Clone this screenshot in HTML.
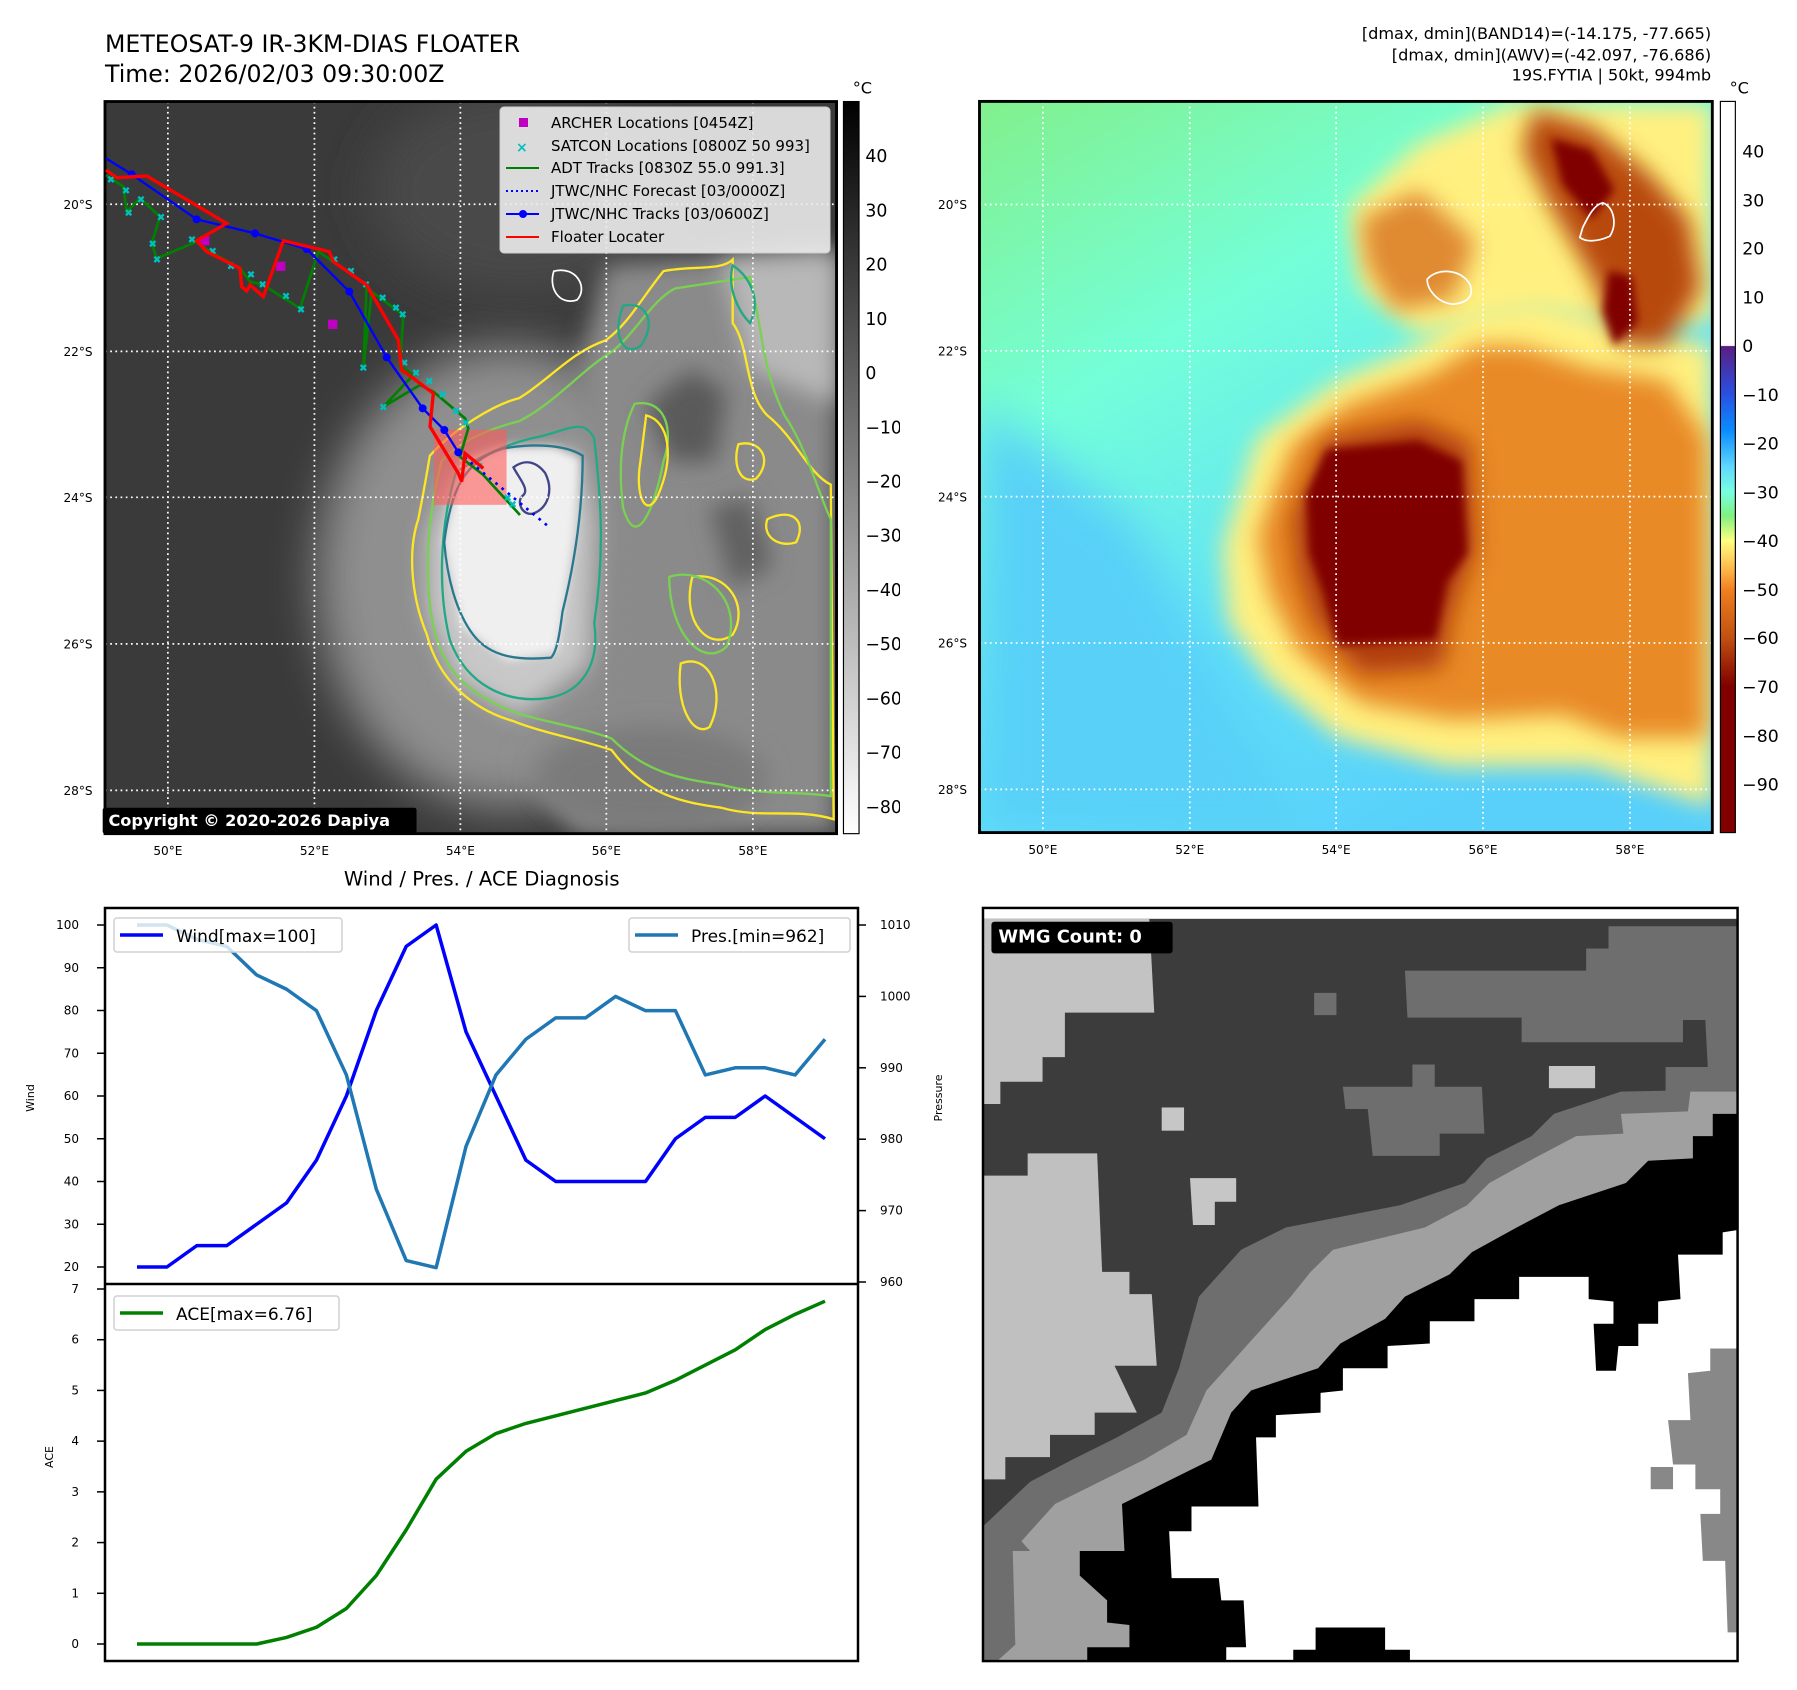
<!DOCTYPE html>
<html><head><meta charset="utf-8"><style>
html,body{margin:0;padding:0;background:#fff;}
svg{display:block;font-family:"DejaVu Sans","Liberation Sans",sans-serif;}
</style></head><body>
<svg id="root" width="1797" height="1690" viewBox="0 0 1797 1690" xmlns="http://www.w3.org/2000/svg">
<defs>
  <filter id="b40" x="-50%" y="-50%" width="200%" height="200%"><feGaussianBlur stdDeviation="40"/></filter>
  <filter id="b20" x="-50%" y="-50%" width="200%" height="200%"><feGaussianBlur stdDeviation="20"/></filter>
  <filter id="b8" x="-50%" y="-50%" width="200%" height="200%"><feGaussianBlur stdDeviation="8"/></filter>
  <linearGradient id="gcb" x1="0" y1="0" x2="0" y2="1">
    <stop offset="0" stop-color="#000"/><stop offset="1" stop-color="#fff"/>
  </linearGradient>
  <linearGradient id="ccb" x1="0" y1="0" x2="0" y2="1">
    <stop offset="0" stop-color="#fff"/><stop offset="0.334" stop-color="#fff"/>
    <stop offset="0.335" stop-color="#5a1e82"/><stop offset="0.40" stop-color="#2a50e0"/>
    <stop offset="0.45" stop-color="#0a8cff"/><stop offset="0.50" stop-color="#60d8ff"/>
    <stop offset="0.534" stop-color="#78ffe0"/><stop offset="0.567" stop-color="#80f080"/>
    <stop offset="0.601" stop-color="#ffff80"/><stop offset="0.635" stop-color="#ffc050"/>
    <stop offset="0.668" stop-color="#f08020"/><stop offset="0.734" stop-color="#c05010"/>
    <stop offset="0.80" stop-color="#800000"/><stop offset="1" stop-color="#800000"/>
  </linearGradient>
  <linearGradient id="rbg" x1="0" y1="0" x2="0.6" y2="1">
    <stop offset="0" stop-color="#82f08c"/><stop offset="0.35" stop-color="#74ffd8"/>
    <stop offset="0.7" stop-color="#60e0f8"/><stop offset="1" stop-color="#58d0fa"/>
  </linearGradient>
  <clipPath id="clipL"><rect x="182" y="176" width="1268" height="1269"/></clipPath>
  <clipPath id="clipR"><rect x="138" y="176" width="1272" height="1269"/></clipPath>
  <clipPath id="clipW"><rect x="5" y="8" width="1520" height="1525"/></clipPath>
</defs>

<!-- ============ LEFT MAP (zoom3 coords) ============ -->
<svg x="0" y="0" width="900" height="900" viewBox="0 0 1560 1560">
  <text x="182" y="90" font-size="41" fill="#000">METEOSAT-9 IR-3KM-DIAS FLOATER</text>
  <text x="182" y="142" font-size="41" fill="#000">Time: 2026/02/03 09:30:00Z</text>
  <g clip-path="url(#clipL)">
    <rect x="182" y="176" width="1268" height="1269" fill="#3a3a3a"/>
    <ellipse cx="900" cy="330" rx="260" ry="180" fill="#4a4a4a" filter="url(#b40)"/>
    <ellipse cx="880" cy="1000" rx="330" ry="400" fill="#8f8f8f" filter="url(#b40)"/>
    <polygon points="1050,460 1450,430 1450,1445 1000,1445 900,1320 1040,1200 1060,900 1000,650" fill="#8a8a8a" filter="url(#b20)"/>
    <polygon points="1250,450 1450,440 1450,700 1300,640" fill="#b8b8b8" filter="url(#b20)"/>
    <ellipse cx="1130" cy="1350" rx="200" ry="90" fill="#7a7a7a" filter="url(#b20)"/>
    <polygon points="740,930 780,830 860,790 1000,780 1030,900 1020,1150 900,1240 790,1180 740,1060" fill="#c8c8c8" filter="url(#b20)"/>
    <polygon points="770,940 800,800 870,775 960,775 1005,795 995,930 965,1130 880,1145 800,1085" fill="#efefef" filter="url(#b8)"/>
    <polygon points="1120,700 1200,640 1260,680 1240,800 1160,800" fill="#5a5a5a" filter="url(#b20)"/>
    <polygon points="1230,880 1300,860 1340,980 1270,1020" fill="#606060" filter="url(#b20)"/>
  </g>
  <g fill="none" stroke-width="4" clip-path="url(#clipL)">
    <path d="M745,790 C790,740 860,700 900,690 C950,660 990,610 1050,590 C1090,560 1110,520 1150,470 C1200,460 1250,470 1270,450 L1270,560 C1300,600 1290,680 1330,720 C1380,760 1400,820 1440,840 L1445,1420 C1380,1400 1320,1420 1250,1400 C1180,1390 1120,1380 1060,1300 C1000,1280 940,1270 890,1250 C820,1230 760,1180 740,1100 C715,1040 705,960 725,900 C735,850 740,820 745,790 Z" stroke="#fde725"/>
    <path d="M765,800 C800,760 860,740 900,730 C960,700 1010,640 1060,610 C1100,580 1130,520 1170,500 L1300,480 C1320,560 1320,640 1360,720 C1400,780 1420,860 1440,900 L1440,1380 C1380,1370 1320,1380 1250,1360 C1180,1350 1120,1340 1060,1280 C990,1255 930,1250 880,1230 C810,1200 765,1160 750,1080 C735,1000 740,900 765,800 Z" stroke="#7ad151"/>
    <path d="M790,820 C830,790 880,770 920,760 C980,750 1010,720 1030,760 C1040,850 1050,950 1030,1080 C1040,1150 1010,1200 950,1210 C880,1220 810,1190 780,1110 C760,1030 760,920 790,820 Z" stroke="#22a884"/>
    <path d="M770,940 C780,860 800,800 870,778 C920,768 980,770 1010,790 C1010,870 1000,960 975,1060 C970,1100 965,1130 955,1140 C900,1145 850,1140 820,1100 C790,1060 775,1000 770,940 Z" stroke="#2a788e"/>
    <path d="M890,810 C910,795 930,800 945,820 C960,850 950,880 925,890 C905,895 895,870 905,860 C920,850 900,830 890,810 Z" stroke="#414487"/>
    <path d="M1080,530 C1120,520 1140,560 1110,600 C1080,620 1060,580 1080,530 Z" stroke="#22a884"/>
    <path d="M1270,460 C1300,480 1320,520 1300,560 C1280,540 1260,500 1270,460 Z" stroke="#22a884"/>
    <path d="M1100,700 C1150,690 1170,740 1150,800 C1130,900 1100,950 1080,880 C1070,800 1080,740 1100,700 Z" stroke="#7ad151"/>
    <path d="M1120,720 C1160,730 1170,790 1140,860 C1120,900 1100,860 1110,800 Z" stroke="#fde725"/>
    <path d="M1200,1000 C1260,990 1300,1050 1270,1100 C1230,1130 1180,1080 1200,1000 Z" stroke="#fde725"/>
    <path d="M1160,1000 C1220,980 1290,1040 1260,1120 C1220,1160 1160,1100 1160,1000 Z" stroke="#7ad151"/>
    <path d="M1280,770 C1320,760 1340,800 1310,830 C1280,840 1270,800 1280,770 Z" stroke="#fde725"/>
    <path d="M1330,900 C1370,880 1400,900 1380,940 C1350,950 1320,930 1330,900 Z" stroke="#fde725"/>
    <path d="M1180,1150 C1230,1130 1260,1200 1230,1260 C1200,1280 1170,1220 1180,1150 Z" stroke="#fde725"/>
    <path d="M960,470 C1000,460 1020,500 1000,520 C970,530 950,500 960,470 Z" stroke="#ffffff" stroke-width="3"/>
  </g>
  <g stroke="#fff" stroke-width="3" stroke-dasharray="3,6" clip-path="url(#clipL)">
    <line x1="291" y1="176" x2="291" y2="1445"/><line x1="545" y1="176" x2="545" y2="1445"/>
    <line x1="798" y1="176" x2="798" y2="1445"/><line x1="1051" y1="176" x2="1051" y2="1445"/>
    <line x1="1305" y1="176" x2="1305" y2="1445"/>
    <line x1="182" y1="354" x2="1450" y2="354"/><line x1="182" y1="609" x2="1450" y2="609"/>
    <line x1="182" y1="862" x2="1450" y2="862"/><line x1="182" y1="1116" x2="1450" y2="1116"/>
    <line x1="182" y1="1370" x2="1450" y2="1370"/>
  </g>
  <rect x="752" y="745" width="126" height="130" fill="rgba(255,90,90,0.6)"/>
  <rect x="182" y="176" width="1268" height="1269" fill="none" stroke="#000" stroke-width="5"/>
  <g font-size="21" fill="#000">
    <text x="110" y="362">20°S</text><text x="110" y="617">22°S</text><text x="110" y="870">24°S</text>
    <text x="110" y="1124">26°S</text><text x="110" y="1378">28°S</text>
  </g>
  <g font-size="21" fill="#000" text-anchor="middle">
    <text x="291" y="1482">50°E</text><text x="545" y="1482">52°E</text><text x="798" y="1482">54°E</text>
    <text x="1051" y="1482">56°E</text><text x="1305" y="1482">58°E</text>
  </g>
  <rect x="1462" y="176" width="27" height="1269" fill="url(#gcb)" stroke="#000" stroke-width="2"/>
  <text x="1478" y="162" font-size="28">°C</text>
  <g font-size="30" fill="#000">
    <text x="1500" y="281">40</text><text x="1500" y="375">30</text><text x="1500" y="469">20</text>
    <text x="1500" y="563">10</text><text x="1500" y="657">0</text><text x="1500" y="751">−10</text>
    <text x="1500" y="845">−20</text><text x="1500" y="939">−30</text><text x="1500" y="1033">−40</text>
    <text x="1500" y="1127">−50</text><text x="1500" y="1221">−60</text><text x="1500" y="1315">−70</text>
    <text x="1500" y="1409">−80</text>
  </g>
  <rect x="178" y="1400" width="544" height="45" rx="4" fill="#000"/>
  <text x="188" y="1432" font-size="28" font-weight="bold" fill="#fff">Copyright © 2020-2026 Dapiya</text>
  <text x="835" y="1535" font-size="34" text-anchor="middle">Wind / Pres. / ACE Diagnosis</text>
</svg>

<!-- tracks (zoom7 coords) -->
<svg x="100" y="95" width="450" height="450" viewBox="0 0 1350 1350" overflow="hidden">
  <polyline points="18,240 70,275 80,350 120,310 180,365 155,445 170,490 290,440 330,470 420,520 450,560 490,570 600,640 655,470 700,500 800,570 790,820 815,590 910,660 900,810 940,840 850,935 960,870 1000,890 1095,970 1105,1000 1080,1085 1150,1140 1260,1260" fill="none" stroke="#008000" stroke-width="8"/>
  <g stroke="#00c0c0" stroke-width="7">
    <path d="M25,245l16,16m0,-16l-16,16 M70,278l16,16m0,-16l-16,16 M78,345l16,16m0,-16l-16,16 M115,305l16,16m0,-16l-16,16 M175,358l16,16m0,-16l-16,16 M150,438l16,16m0,-16l-16,16 M163,485l16,16m0,-16l-16,16 M268,425l16,16m0,-16l-16,16 M330,460l16,16m0,-16l-16,16 M385,505l16,16m0,-16l-16,16 M445,530l16,16m0,-16l-16,16 M480,560l16,16m0,-16l-16,16 M550,595l16,16m0,-16l-16,16 M595,635l16,16m0,-16l-16,16 M695,485l16,16m0,-16l-16,16 M745,520l16,16m0,-16l-16,16 M790,560l16,16m0,-16l-16,16 M840,600l16,16m0,-16l-16,16 M880,630l16,16m0,-16l-16,16 M900,650l16,16m0,-16l-16,16 M782,810l16,16m0,-16l-16,16 M905,795l16,16m0,-16l-16,16 M940,825l16,16m0,-16l-16,16 M842,928l16,16m0,-16l-16,16 M980,850l16,16m0,-16l-16,16 M1020,890l16,16m0,-16l-16,16 M1060,940l16,16m0,-16l-16,16 M1090,975l16,16m0,-16l-16,16 M1130,1105l16,16m0,-16l-16,16 M1215,1200l16,16m0,-16l-16,16 M1230,1220l16,16m0,-16l-16,16"/>
  </g>
  <rect x="300" y="423" width="28" height="28" fill="#c000c0"/>
  <rect x="528" y="500" width="28" height="28" fill="#c000c0"/>
  <rect x="684" y="674" width="28" height="28" fill="#c000c0"/>
  <polyline points="1075,1072 1340,1290 1650,1550" fill="none" stroke="#0000ff" stroke-width="8" stroke-dasharray="8,16"/>
  <polyline points="18,190 95,238 290,373 465,415 620,462 748,590 860,787 968,940 1033,1005 1075,1072" fill="none" stroke="#0000ff" stroke-width="7"/>
  <g fill="#0000ff">
    <circle cx="95" cy="238" r="12"/><circle cx="290" cy="373" r="12"/><circle cx="465" cy="415" r="12"/>
    <circle cx="620" cy="462" r="12"/><circle cx="748" cy="590" r="12"/><circle cx="860" cy="787" r="12"/>
    <circle cx="968" cy="940" r="12"/><circle cx="1033" cy="1005" r="12"/><circle cx="1075" cy="1072" r="12"/>
  </g>
  <polyline points="18,225 50,248 140,243 380,385 290,437 320,470 420,520 425,575 440,588 450,570 490,605 550,437 688,470 700,500 800,570 895,735 905,825 920,835 1000,895 990,995 1075,1135 1085,1160 1095,1075 1150,1120" fill="none" stroke="#ff0000" stroke-width="10"/>
</svg>

<g>
  <rect x="500" y="107" width="330" height="146" rx="4" fill="rgba(235,235,235,0.9)" stroke="#ccc"/>
  <rect x="519" y="118" width="9" height="9" fill="#c000c0"/>
  <text x="551" y="128" font-size="15">ARCHER Locations [0454Z]</text>
  <text x="516" y="152" font-size="14" fill="#00c0c0" font-weight="bold">×</text>
  <text x="551" y="151" font-size="15">SATCON Locations [0800Z 50 993]</text>
  <line x1="506" y1="168" x2="539" y2="168" stroke="#008000" stroke-width="2"/>
  <text x="551" y="173" font-size="15">ADT Tracks [0830Z 55.0 991.3]</text>
  <line x1="506" y1="191" x2="539" y2="191" stroke="#0000ff" stroke-width="2" stroke-dasharray="2,3"/>
  <text x="551" y="196" font-size="15">JTWC/NHC Forecast [03/0000Z]</text>
  <line x1="506" y1="214" x2="539" y2="214" stroke="#0000ff" stroke-width="2"/><circle cx="523" cy="214" r="4" fill="#0000ff"/>
  <text x="551" y="219" font-size="15">JTWC/NHC Tracks [03/0600Z]</text>
  <line x1="506" y1="237" x2="539" y2="237" stroke="#ff0000" stroke-width="2"/>
  <text x="551" y="242" font-size="15">Floater Locater</text>
</g>

<!-- ============ RIGHT MAP (zoom2 coords) ============ -->
<svg x="900" y="0" width="897" height="900" viewBox="0 0 1557 1562" preserveAspectRatio="none">
  <g font-size="28" text-anchor="end" fill="#000">
    <text x="1408" y="68">[dmax, dmin](BAND14)=(-14.175, -77.665)</text>
    <text x="1408" y="105">[dmax, dmin](AWV)=(-42.097, -76.686)</text>
    <text x="1408" y="140">19S.FYTIA | 50kt, 994mb</text>
  </g>
  <g clip-path="url(#clipR)">
    <rect x="138" y="176" width="1272" height="1269" fill="url(#rbg)"/>
    <polygon points="138,700 400,900 520,1100 700,1445 138,1445" fill="#58d0f8" filter="url(#b40)"/>
    <polygon points="560,950 620,760 760,660 900,600 980,540 1100,520 1250,560 1410,600 1410,1400 1200,1330 950,1330 760,1280 640,1180 570,1080" fill="#fff080" filter="url(#b20)"/>
    <polygon points="780,360 900,250 1060,180 1410,180 1410,560 1250,560 1100,540 900,580 800,500" fill="#fff080" filter="url(#b20)"/>
    <polygon points="620,930 680,770 780,700 920,650 1000,600 1080,600 1200,640 1330,660 1400,760 1400,1280 1250,1280 1150,1240 960,1250 800,1220 690,1130 640,1030" fill="#e88a28" filter="url(#b20)"/>
    <polygon points="800,380 900,330 1000,420 960,520 860,540 810,460" fill="#e08a30" filter="url(#b20)"/>
    <polygon points="1100,190 1200,220 1300,300 1370,380 1390,500 1330,600 1250,600 1200,480 1130,360 1080,260" fill="#b84a10" filter="url(#b20)"/>
    <polygon points="1130,240 1200,260 1240,330 1200,380 1150,320" fill="#800000" filter="url(#b8)"/>
    <polygon points="1230,470 1270,480 1280,560 1240,600 1220,540" fill="#800000" filter="url(#b8)"/>
    <polygon points="680,900 740,760 900,730 990,770 1000,950 960,1060 940,1160 800,1170 720,1080 690,990" fill="#b03c08" filter="url(#b20)"/>
    <polygon points="705,860 740,780 900,765 975,800 985,960 950,1010 930,1110 760,1120 735,1030 710,960" fill="#800000" filter="url(#b8)"/>
    <path d="M915,485 C930,465 975,465 990,495 C995,510 990,525 960,528 C930,525 915,500 915,485 Z" fill="none" stroke="#fff" stroke-width="3"/>
    <path d="M1185,395 C1195,375 1205,355 1220,352 C1240,360 1245,390 1232,410 C1210,420 1190,420 1180,412 Z" fill="none" stroke="#fff" stroke-width="3"/>
  </g>
  <g stroke="#fff" stroke-width="3" stroke-dasharray="3,6" clip-path="url(#clipR)">
    <line x1="248" y1="176" x2="248" y2="1445"/><line x1="503" y1="176" x2="503" y2="1445"/>
    <line x1="757" y1="176" x2="757" y2="1445"/><line x1="1012" y1="176" x2="1012" y2="1445"/>
    <line x1="1267" y1="176" x2="1267" y2="1445"/>
    <line x1="138" y1="355" x2="1410" y2="355"/><line x1="138" y1="609" x2="1410" y2="609"/>
    <line x1="138" y1="862" x2="1410" y2="862"/><line x1="138" y1="1116" x2="1410" y2="1116"/>
    <line x1="138" y1="1370" x2="1410" y2="1370"/>
  </g>
  <rect x="138" y="176" width="1272" height="1269" fill="none" stroke="#000" stroke-width="5"/>
  <g font-size="21">
    <text x="66" y="363">20°S</text><text x="66" y="617">22°S</text><text x="66" y="870">24°S</text>
    <text x="66" y="1124">26°S</text><text x="66" y="1378">28°S</text>
  </g>
  <g font-size="21" text-anchor="middle">
    <text x="248" y="1482">50°E</text><text x="503" y="1482">52°E</text><text x="757" y="1482">54°E</text>
    <text x="1012" y="1482">56°E</text><text x="1267" y="1482">58°E</text>
  </g>
  <rect x="1424" y="176" width="26" height="1269" fill="url(#ccb)" stroke="#000" stroke-width="2"/>
  <text x="1440" y="162" font-size="28">°C</text>
  <g font-size="30">
    <text x="1462" y="273">40</text><text x="1462" y="358">30</text><text x="1462" y="442">20</text>
    <text x="1462" y="527">10</text><text x="1462" y="611">0</text><text x="1462" y="696">−10</text>
    <text x="1462" y="780">−20</text><text x="1462" y="865">−30</text><text x="1462" y="949">−40</text>
    <text x="1462" y="1034">−50</text><text x="1462" y="1118">−60</text><text x="1462" y="1203">−70</text>
    <text x="1462" y="1288">−80</text><text x="1462" y="1372">−90</text>
  </g>
</svg>

<!-- ============ WMG PANEL (zoom4 coords) ============ -->
<svg x="980.5" y="904" width="767" height="763" viewBox="0 0 1545 1545" preserveAspectRatio="none">
  <g clip-path="url(#clipW)">
    <rect x="0" y="0" width="1545" height="1545" fill="#fff"/>
    <rect x="5" y="30" width="1520" height="1505" fill="#3c3c3c"/>
    <polygon points="0,30 340,30 350,220 170,220 170,310 125,310 125,360 40,360 40,405 0,405" fill="#c3c3c3"/>
    <polygon points="0,550 95,550 95,505 235,505 245,745 300,745 300,790 345,790 355,935 270,935 315,1030 230,1030 230,1075 140,1075 140,1120 50,1120 50,1165 0,1165" fill="#c0c0c0"/>
    <polygon points="855,135 1220,135 1220,90 1265,90 1265,45 1525,45 1525,380 1380,380 1380,330 1465,330 1460,235 1415,235 1415,280 1090,280 1090,230 860,230" fill="#6e6e6e"/>
    <polygon points="730,370 870,370 870,325 915,325 915,370 1010,370 1015,465 925,465 925,510 790,510 780,415 735,415" fill="#6e6e6e"/>
    <rect x="672" y="180" width="45" height="45" fill="#6e6e6e"/>
    <rect x="365" y="412" width="45" height="47" fill="#c6c6c6"/>
    <polygon points="422,555 515,555 515,603 472,603 472,650 428,650" fill="#c6c6c6"/>
    <rect x="1145" y="328" width="93" height="45" fill="#c6c6c6"/>
    <polygon points="1525,375 1290,380 1155,425 1110,470 1020,515 975,565 845,610 615,655 525,700 440,795 400,940 365,1030 275,1080 185,1125 100,1170 0,1265 0,1545 1545,1545" fill="#6e6e6e"/>
    <polygon points="1525,380 1430,380 1425,420 1290,425 1295,465 1200,470 1115,515 1025,565 980,610 895,655 710,700 665,745 625,795 540,890 500,935 455,985 415,1075 330,1125 240,1170 150,1215 105,1265 65,1310 70,1500 20,1545 1545,1545" fill="#a0a0a0"/>
    <polygon points="1525,425 1475,425 1475,470 1435,470 1435,515 1345,520 1300,565 1165,610 1080,655 990,705 945,750 855,795 815,840 725,890 680,940 545,985 505,1030 465,1125 375,1170 285,1215 290,1310 200,1310 200,1360 255,1410 255,1455 300,1460 300,1505 215,1505 215,1545 1545,1545" fill="#000"/>
    <polygon points="1525,660 1495,665 1495,710 1405,710 1410,800 1365,805 1365,850 1325,850 1325,895 1285,895 1280,945 1240,945 1235,850 1275,850 1275,805 1225,800 1225,755 1085,755 1085,800 995,800 995,845 905,845 905,890 820,895 820,940 730,940 730,985 685,990 685,1030 595,1035 595,1080 555,1080 560,1220 425,1220 425,1270 380,1270 385,1365 480,1365 485,1410 530,1410 535,1505 495,1505 495,1545 630,1545 630,1510 675,1510 675,1465 815,1465 815,1510 865,1510 865,1545 1545,1545" fill="#fff"/>
    <polygon points="1470,900 1525,900 1525,1475 1505,1475 1500,1330 1455,1330 1450,1235 1490,1235 1490,1185 1440,1185 1440,1135 1395,1135 1385,1045 1430,1045 1425,950 1470,945" fill="#888"/>
    <rect x="1350" y="1140" width="45" height="45" fill="#888"/>
    <polygon points="0,1265 60,1265 100,1310 60,1310 70,1500 20,1500" fill="#6e6e6e"/>
  </g>
  <rect x="5" y="8" width="1520" height="1525" fill="none" stroke="#000" stroke-width="5"/>
  <rect x="22" y="36" width="365" height="64" rx="6" fill="#000"/>
  <text x="36" y="78" font-size="36" font-weight="bold" fill="#fff">WMG Count: 0</text>
</svg>

<!-- ============ DIAGNOSIS CHART ============ -->
<g id="chart">
  <rect x="105" y="908" width="753" height="753" fill="#fff" stroke="#000" stroke-width="2.5"/>
  <line x1="105" y1="1284" x2="858" y2="1284" stroke="#000" stroke-width="2.5"/>
  <text transform="translate(34,1098) rotate(-90)" font-size="11" text-anchor="middle">Wind</text>
  <text transform="translate(942,1098) rotate(-90)" font-size="11" text-anchor="middle">Pressure</text>
  <text transform="translate(53,1457) rotate(-90)" font-size="11" text-anchor="middle">ACE</text>
</g>
</svg>
<script>
const windTicks=[20,30,40,50,60,70,80,90,100];
const presTicks=[960,970,980,990,1000,1010];
const aceTicks=[0,1,2,3,4,5,6,7];
const windValues=[20,20,25,25,30,35,45,60,80,95,100,75,60,45,40,40,40,40,50,55,55,60,55,50];
const presValues=[1010,1010,1008,1007,1003,1001,998,989,973,963,962,979,989,994,997,997,1000,998,998,989,990,990,989,994];
const aceValues=[0,0,0,0,0,0.13,0.33,0.7,1.35,2.25,3.25,3.8,4.15,4.35,4.5,4.65,4.8,4.95,5.2,5.5,5.8,6.2,6.5,6.76];
const NS='http://www.w3.org/2000/svg';
const chart=document.getElementById('chart');
function xAt(i){return 137+i*(825-137)/(windValues.length-1);}
function yWind(v){return 1267-(v-20)*(1267-925)/80;}
function yPres(v){return 1282-(v-960)*(1282-925)/50;}
function yAce(v){return 1644-v*(1644-1289)/7;}
function mk(tag,attrs){const e=document.createElementNS(NS,tag);for(const k in attrs)e.setAttribute(k,attrs[k]);chart.appendChild(e);return e;}
windTicks.forEach(t=>{const y=yWind(t);
  const l=mk('line',{x1:97,y1:y,x2:105,y2:y,stroke:'#000','stroke-width':1.5});
  
  
  const tx=mk('text',{x:79,y:y+4,'font-size':12,'text-anchor':'end'});tx.textContent=t;
  
  });
presTicks.forEach(t=>{const y=yPres(t);
  const l=mk('line',{x1:858,y1:y,x2:866,y2:y,stroke:'#000','stroke-width':1.5});
  
  
  const tx=mk('text',{x:880,y:y+4,'font-size':12});tx.textContent=t;
  
  });
aceTicks.forEach(t=>{const y=yAce(t);
  const l=mk('line',{x1:97,y1:y,x2:105,y2:y,stroke:'#000','stroke-width':1.5});
  
  
  const tx=mk('text',{x:79,y:y+4,'font-size':12,'text-anchor':'end'});tx.textContent=t;
  
  });
function line(vals,fy,color,name){
  const p=mk('polyline',{points:vals.map((v,i)=>xAt(i)+','+fy(v)).join(' '),fill:'none',stroke:color,'stroke-width':3.5,'stroke-linejoin':'round'});
  
  }
line(windValues,yWind,'#0000ff','wind-line');
line(presValues,yPres,'#1f77b4','pressure-line');
line(aceValues,yAce,'#008000','ace-line');
function legend(x,y,w,color,label,name){
  const g=document.createElementNS(NS,'g');chart.appendChild(g);
  
  
  const r=document.createElementNS(NS,'rect');
  Object.entries({x:x,y:y,width:w,height:34,rx:3,fill:'rgba(255,255,255,0.8)',stroke:'#d0d0d0','stroke-width':1.5}).forEach(([k,v])=>r.setAttribute(k,v));g.appendChild(r);
  const l=document.createElementNS(NS,'line');
  Object.entries({x1:x+6,y1:y+17,x2:x+49,y2:y+17,stroke:color,'stroke-width':3.5}).forEach(([k,v])=>l.setAttribute(k,v));g.appendChild(l);
  const t=document.createElementNS(NS,'text');
  Object.entries({x:x+62,y:y+24,'font-size':17}).forEach(([k,v])=>t.setAttribute(k,v));t.textContent=label;g.appendChild(t);}
legend(114,918,228,'#0000ff','Wind[max='+Math.max(...windValues)+']','wind-legend');
legend(629,918,221,'#1f77b4','Pres.[min='+Math.min(...presValues)+']','pressure-legend');
legend(114,1296,225,'#008000','ACE[max='+Math.max(...aceValues)+']','ace-legend');
</script>
</body></html>
